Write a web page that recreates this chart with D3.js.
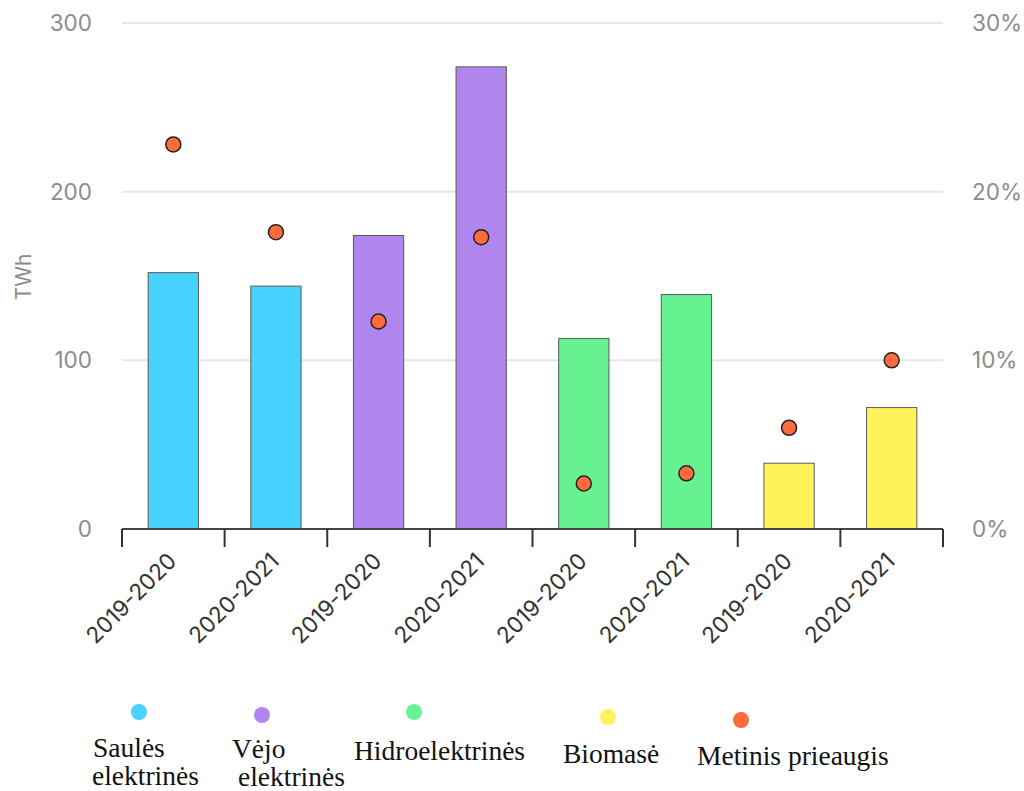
<!DOCTYPE html>
<html>
<head>
<meta charset="utf-8">
<script src="https://cdn.jsdelivr.net/npm/d3@7"></script>
<style>
  html, body { margin: 0; padding: 0; background: #fff; }
  svg { display: block; }
</style>
</head>
<body>
<svg id="chart" width="1024" height="791"></svg>
<script>
// Production (TWh) and yearly growth (%) by energy source
const periods = ["2019-2020", "2020-2021", "2019-2020", "2020-2021", "2019-2020", "2020-2021", "2019-2020", "2020-2021"];
const sources = ["Saulės elektrinės", "Saulės elektrinės", "Vėjo elektrinės", "Vėjo elektrinės", "Hidroelektrinės", "Hidroelektrinės", "Biomasė", "Biomasė"];
const production = [152, 144, 174, 274, 113, 139, 39, 72];
const growth = [22.8, 17.6, 12.3, 17.3, 2.7, 3.3, 6.0, 10.0];
const leftTicks = [0, 100, 200, 300];
const rightTicks = [0, 10, 20, 30];
const legendNames = ["Saulės elektrinės", "Vėjo elektrinės", "Hidroelektrinės", "Biomasė", "Metinis prieaugis"];
const legendColors = ["#48d2ff", "#b085ed", "#66f291", "#fff25a", "#ff6b3d"];

const svg = d3.select("#chart");
const plotLeft = 122, plotRight = 943, plotTop = 23, plotBottom = 529;
const sansFont = "Inter, 'Open Sans', sans-serif";

const x = d3.scaleBand().domain(d3.range(periods.length)).range([plotLeft, plotRight]).paddingInner(0.51).paddingOuter(0.255);
const y = d3.scaleLinear().domain([0, 300]).range([plotBottom, plotTop]);
const y2 = d3.scaleLinear().domain([0, 30]).range([plotBottom, plotTop]);
const colorOf = d3.scaleOrdinal().domain(legendNames).range(legendColors);

// gridlines
svg.append("g").selectAll("line").data(leftTicks.filter(d => d > 0)).join("line")
  .attr("x1", plotLeft).attr("x2", plotRight)
  .attr("y1", d => y(d)).attr("y2", d => y(d))
  .attr("stroke", "#e6e6e6").attr("stroke-width", 2);

// left axis labels
svg.append("g").selectAll("text").data(leftTicks).join("text")
  .attr("x", 92).attr("y", d => y(d)).attr("dy", "0.35em")
  .attr("text-anchor", "end")
  .attr("font-family", sansFont).attr("font-size", 22.5)
  .attr("fill", "#8c8c8c")
  .text(d => d);

// right axis labels
svg.append("g").selectAll("text").data(rightTicks).join("text")
  .attr("x", 972).attr("y", d => y2(d)).attr("dy", "0.35em")
  .attr("text-anchor", "start")
  .attr("font-family", sansFont).attr("font-size", 22.5)
  .attr("fill", "#8c8c8c")
  .text(d => d + "%");

// axis title
svg.append("text")
  .attr("transform", "translate(31,277) rotate(-90)")
  .attr("text-anchor", "middle")
  .attr("font-family", sansFont).attr("font-size", 21)
  .attr("fill", "#8c8c8c")
  .text("TWh");

// bars
svg.append("g").selectAll("rect").data(production).join("rect")
  .attr("x", (d, i) => x(i)).attr("width", x.bandwidth())
  .attr("y", d => y(d)).attr("height", d => plotBottom - y(d))
  .attr("fill", (d, i) => colorOf(sources[i]))
  .attr("stroke", "#5a5a5a").attr("stroke-width", 1);

// x axis with ticks at band boundaries
const xAxis = svg.append("g");
xAxis.append("line").attr("x1", plotLeft).attr("x2", plotRight).attr("y1", plotBottom).attr("y2", plotBottom)
  .attr("stroke", "#444").attr("stroke-width", 2);
const boundaries = d3.range(periods.length + 1).map(i => plotLeft + i * x.step());
xAxis.selectAll("line.tick").data(boundaries).join("line").attr("class", "tick")
  .attr("x1", d => d).attr("x2", d => d).attr("y1", plotBottom).attr("y2", plotBottom + 18)
  .attr("stroke", "#333").attr("stroke-width", 2);
xAxis.selectAll("text").data(periods).join("text")
  .attr("transform", (d, i) => `translate(${x(i) + x.bandwidth() / 2 - 1},${plotBottom + 28}) rotate(-45)`)
  .attr("text-anchor", "end").attr("dy", "0.35em")
  .attr("font-family", sansFont).attr("font-size", 22.5)
  .attr("fill", "#333")
  .text(d => d);

// growth points
svg.append("g").selectAll("circle").data(growth).join("circle")
  .attr("cx", (d, i) => x(i) + x.bandwidth() / 2)
  .attr("cy", d => y2(d))
  .attr("r", 7.5)
  .attr("fill", legendColors[4])
  .attr("stroke", "#222").attr("stroke-width", 1.5);

// legend
const legendItems = [
  { dot: [139, 712], lines: [["Saulės", 93, 757], ["elektrinės", 92, 785]] },
  { dot: [262, 715], lines: [["Vėjo", 232, 758], ["elektrinės", 238, 786]] },
  { dot: [414, 712], lines: [["Hidroelektrinės", 354, 760]] },
  { dot: [608, 717], lines: [["Biomasė", 563, 763]] },
  { dot: [741, 720], lines: [["Metinis prieaugis", 697, 765]] }
];
const lg = svg.append("g").selectAll("g").data(legendItems).join("g");
lg.append("circle")
  .attr("cx", d => d.dot[0]).attr("cy", d => d.dot[1]).attr("r", 8)
  .attr("fill", (d, i) => colorOf(legendNames[i]));
lg.append("text")
  .attr("font-family", "'Liberation Serif', 'Times New Roman', serif")
  .attr("font-size", 27.5).attr("fill", "#111")
  .selectAll("tspan").data(d => d.lines).join("tspan")
  .attr("x", w => w[1]).attr("y", w => w[2]).text(w => w[0]);
</script>
</body>
</html>
